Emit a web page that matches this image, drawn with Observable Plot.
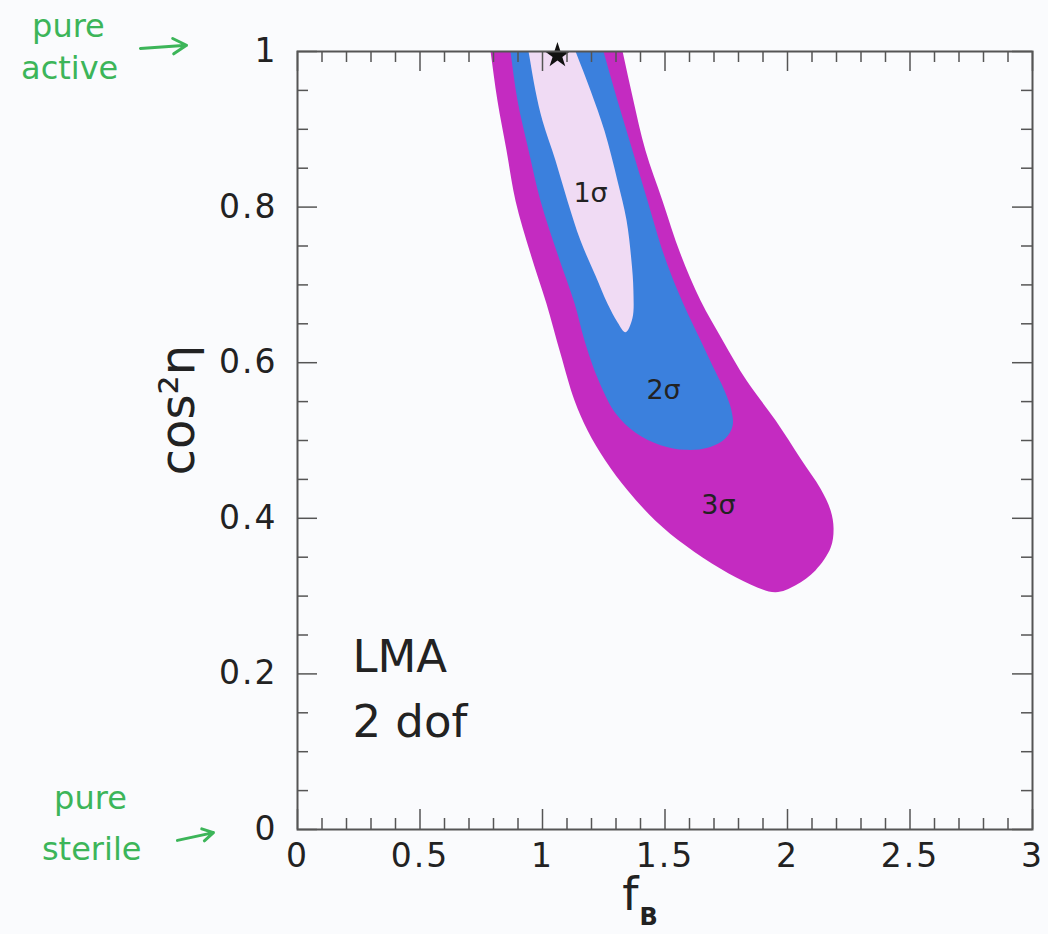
<!DOCTYPE html>
<html><head><meta charset="utf-8">
<script src="https://cdn.jsdelivr.net/npm/d3@7"></script>
<script src="https://cdn.jsdelivr.net/npm/@observablehq/plot@0.6"></script>
<style>
html,body{margin:0;padding:0;background:#fafbfd;}
#chart svg{display:block;}
#chart g[aria-label="x-axis tick label"] text,
#chart g[aria-label="y-axis tick label"] text{letter-spacing:2px;}
</style>
</head><body><div id="chart"></div>
<script>
// contour regions in (f_B, cos^2 eta); points above 1 are clipped by the frame
const sigma3 = [[0.761,1.06],[0.788,1.0],[0.816,0.937],[0.853,0.873],[0.890,0.808],[0.951,0.740],[1.016,0.676],[1.073,0.612],[1.131,0.551],[1.184,0.513],[1.257,0.474],[1.347,0.436],[1.461,0.397],[1.584,0.365],[1.727,0.335],[1.849,0.315],[1.951,0.305],[2.033,0.314],[2.114,0.333],[2.176,0.362],[2.188,0.387],[2.176,0.410],[2.135,0.438],[2.053,0.477],[1.951,0.526],[1.833,0.577],[1.735,0.629],[1.645,0.680],[1.563,0.740],[1.490,0.808],[1.420,0.873],[1.371,0.937],[1.327,1.0],[1.285,1.06]];
const sigma2 = [[0.841,1.06],[0.869,1.0],[0.898,0.937],[0.943,0.873],[0.992,0.808],[1.061,0.740],[1.131,0.676],[1.171,0.629],[1.229,0.577],[1.298,0.535],[1.380,0.510],[1.482,0.494],[1.584,0.488],[1.678,0.491],[1.747,0.503],[1.776,0.519],[1.771,0.539],[1.743,0.564],[1.694,0.596],[1.645,0.629],[1.596,0.661],[1.551,0.693],[1.494,0.740],[1.429,0.808],[1.367,0.873],[1.306,0.937],[1.249,1.0],[1.195,1.06]];
const sigma1 = [[0.909,1.06],[0.943,1.0],[0.971,0.950],[1.000,0.911],[1.053,0.860],[1.102,0.808],[1.155,0.757],[1.216,0.712],[1.265,0.676],[1.306,0.652],[1.339,0.639],[1.367,0.657],[1.371,0.693],[1.363,0.731],[1.343,0.783],[1.306,0.834],[1.253,0.898],[1.196,0.950],[1.135,1.0],[1.062,1.06]];
const bestFit = [[1.061, 0.995]];
const sigmaLabels = [{x:1.196,y:0.818,t:"1σ"},{x:1.494,y:0.564,t:"2σ"},{x:1.718,y:0.416,t:"3σ"}];
const boxText = [{x:0.224,y:0.221,t:"LMA"},{x:0.224,y:0.138,t:"2 dof"}];
const notes = [{x:-0.935,y:1.032,t:"pure"},{x:-0.93,y:0.978,t:"active"},{x:-0.845,y:0.040,t:"pure"},{x:-0.84,y:-0.026,t:"sterile"}];
const noteArrows = [{x1:-0.641,y1:1.004,x2:-0.453,y2:1.008},{x1:-0.490,y1:-0.014,x2:-0.343,y2:-0.004}];
const xTitleMain = [{x:1.359,y:-0.084,t:"f"}];
const xTitleSub = [{x:1.433,y:-0.113,t:"B"}];
const yTitle = [{x:-0.486,y:0.539,t:"cos²η"}];
const xMajor = [0,0.5,1,1.5,2,2.5,3];
const xMinor = [0.1,0.2,0.3,0.4,0.6,0.7,0.8,0.9,1.1,1.2,1.3,1.4,1.6,1.7,1.8,1.9,2.1,2.2,2.3,2.4,2.6,2.7,2.8,2.9];
const yMajor = [0,0.2,0.4,0.6,0.8,1];
const yMinor = [0.05,0.1,0.15,0.25,0.3,0.35,0.45,0.5,0.55,0.65,0.7,0.75,0.85,0.9,0.95];

const W = 1048, Ht = 934, mL = 297, mR = 16, mT = 51, mB = 105;
const iW = W - mL - mR, iH = Ht - mT - mB;
const tickC = "#555", majL = 20, minL = 11;
const font = "DejaVu Sans, sans-serif";
const fmt = d => String(d);

const chart = Plot.plot({
  width: W, height: Ht,
  marginLeft: mL, marginRight: mR, marginTop: mT, marginBottom: mB,
  style: {background: "#fafbfd", fontFamily: font, color: "#222"},
  x: {domain: [0, 3]},
  y: {domain: [0, 1]},
  marks: [
    Plot.line(sigma3, {x: d => d[0], y: d => d[1], fill: "#c42bc1", stroke: "none", curve: "catmull-rom-closed", clip: true}),
    Plot.line(sigma2, {x: d => d[0], y: d => d[1], fill: "#3b80dd", stroke: "none", curve: "catmull-rom-closed", clip: true}),
    Plot.line(sigma1, {x: d => d[0], y: d => d[1], fill: "#f0dbf4", stroke: "none", curve: "catmull-rom-closed", clip: true}),
    Plot.dot(bestFit, {x: d => d[0], y: d => d[1], symbol: "star", r: 8, fill: "#111", stroke: "none"}),
    Plot.text(sigmaLabels, {x: "x", y: "y", text: "t", fontSize: 27, fill: "#222"}),
    Plot.text(boxText, {x: "x", y: "y", text: "t", fontSize: 45, textAnchor: "start", fill: "#222"}),
    // inward ticks, bottom & top
    Plot.ruleX(xMajor, {x: d => d, insetTop: iH - majL, stroke: tickC, strokeWidth: 1.5}),
    Plot.ruleX(xMinor, {x: d => d, insetTop: iH - minL, stroke: tickC, strokeWidth: 1.5}),
    Plot.ruleX(xMajor, {x: d => d, insetBottom: iH - majL, stroke: tickC, strokeWidth: 1.5}),
    Plot.ruleX(xMinor, {x: d => d, insetBottom: iH - minL, stroke: tickC, strokeWidth: 1.5}),
    // inward ticks, left & right
    Plot.ruleY(yMajor, {y: d => d, insetRight: iW - majL, stroke: tickC, strokeWidth: 1.5}),
    Plot.ruleY(yMinor, {y: d => d, insetRight: iW - minL, stroke: tickC, strokeWidth: 1.5}),
    Plot.ruleY(yMajor, {y: d => d, insetLeft: iW - majL, stroke: tickC, strokeWidth: 1.5}),
    Plot.ruleY(yMinor, {y: d => d, insetLeft: iW - minL, stroke: tickC, strokeWidth: 1.5}),
    Plot.frame({stroke: tickC, strokeWidth: 2}),
    Plot.axisX(xMajor, {tickSize: 0, tickPadding: 14, fontSize: 33, tickFormat: fmt, label: null, fill: "#222"}),
    Plot.axisY(yMajor, {tickSize: 0, tickPadding: 20, fontSize: 33, tickFormat: fmt, label: null, fill: "#222"}),
    Plot.text(xTitleMain, {x: "x", y: "y", text: "t", fontSize: 46, fill: "#222"}),
    Plot.text(xTitleSub, {x: "x", y: "y", text: "t", fontSize: 24, fontWeight: "bold", fill: "#222"}),
    Plot.text(yTitle, {x: "x", y: "y", text: "t", rotate: -90, fontSize: 48, fill: "#222"}),
    Plot.text(notes, {x: "x", y: "y", text: "t", fontSize: 32, fill: "#3cb559"}),
    Plot.arrow(noteArrows, {x1: "x1", y1: "y1", x2: "x2", y2: "y2", stroke: "#3cb559", strokeWidth: 3, headLength: 12})
  ]
});
document.getElementById("chart").appendChild(chart);
</script>
</body></html>
